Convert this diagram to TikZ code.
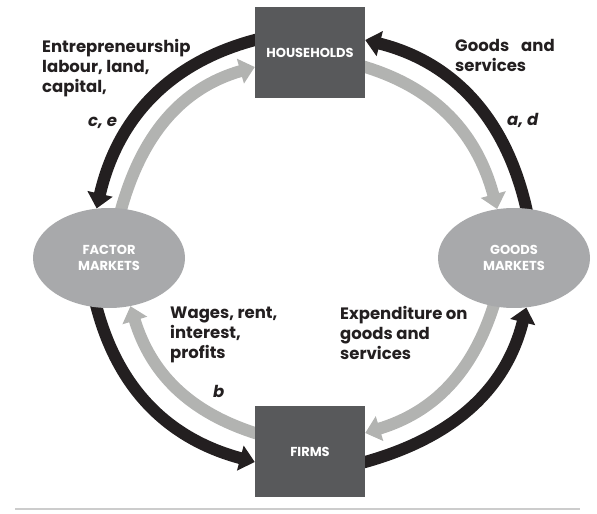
\documentclass[tikz,border=0pt]{standalone}
\usepackage{fontspec}
\setmainfont{Poppins}
\usetikzlibrary{arrows.meta,shapes.geometric,backgrounds}
\definecolor{boite}{RGB}{88,89,91}
\definecolor{grismarche}{RGB}{168,169,171}
\definecolor{fluxgris}{RGB}{178,179,177}
\definecolor{fluxnoir}{RGB}{35,31,32}
\tikzset{agent/.style={fill=boite, text=white, font=\bfseries\fontsize{13}{15}\selectfont, minimum width=110pt, minimum height=91pt, inner sep=0pt},
	marche/.style={ellipse, fill=grismarche, text=white, align=center, font=\bfseries\fontsize{13}{16}\selectfont, minimum width=152pt, minimum height=100pt, inner sep=0pt},
	reel/.style={draw=fluxnoir, line width=12pt, shorten <=-5pt, -{Triangle[width=25pt,length=15pt]}},
	monnaie/.style={draw=fluxgris, line width=12pt, shorten <=-5pt, -{Triangle[width=25pt,length=15pt]}},
	legende/.style={anchor=base west, align=left, inner sep=0pt, text=fluxnoir, font=\bfseries\fontsize{16.5}{20}\selectfont},
	lettre/.style={legende, font=\bfseries\itshape\fontsize{16.5}{20}\selectfont}}

\begin{document}
\begin{tikzpicture}[x=1pt, y=1pt]
	\useasboundingbox (0,0) rectangle (597,514);
	% les quatre poles du circuit
	\node[agent] (hh) at (310,461) {HOUSEHOLDS};
	\node[agent] (firms) at (310,62) {FIRMS};
	\node[marche] (fm) at (109,256) {FACTOR\\MARKETS};
	\node[marche] (gm) at (514,256) {GOODS\\MARKETS};
	% les flux, sous les poles
	\begin{scope}[on background layer]
		\draw[reel] ([yshift=13pt]hh.west) to[out=194, in=77] (fm.104); % facteurs
		\draw[monnaie] (fm.76) to[out=75, in=196] ([yshift=-14pt]hh.west); % revenus
		\draw[reel] (gm.76) to[out=102, in=-14] ([yshift=13pt]hh.east); % biens
		\draw[monnaie] ([yshift=-14pt]hh.east) to[out=-16, in=105] (gm.109); % depenses
		\draw[reel] (fm.256) to[out=-76, in=165] ([yshift=-10pt]firms.west);
		\draw[monnaie] ([yshift=19pt]firms.west) to[out=163, in=-73] (fm.294);
		\draw[reel] ([yshift=-10pt]firms.east) to[out=15, in=-104] (gm.284);
		\draw[monnaie] (gm.247) to[out=-107, in=17] ([yshift=19pt]firms.east);
	\end{scope}
	% les legendes (ancre = ligne de base de la derniere ligne)
	\node[legende] (facteurs) at (42,421) {Entrepreneurship\\labour, land,\\capital,};
	\node[lettre] (ce) at (88,387) {c, e};
	\node[legende] (biens) at (455,442) {Goods\hspace{12pt}and\\services};
	\node[lettre] (ad) at (507,388) {a, d};
	\node[legende] (revenus) at (170,155) {Wages, rent,\\interest,\\profits};
	\node[lettre] (lb) at (213,116) {b};
	\node[legende] (depense) at (340,154) {Expenditure on\\goods and\\services};
	% filet du bas
	\draw[black!20, line width=1.2pt] (15,5) -- (580,5);
\end{tikzpicture}
\end{document}
